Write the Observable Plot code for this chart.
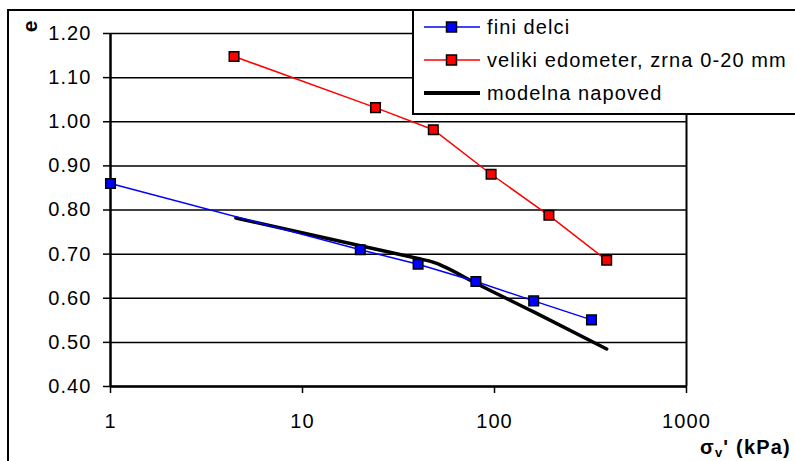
<!DOCTYPE html>
<html><head><meta charset="utf-8">
<script src="https://cdn.jsdelivr.net/npm/d3@7"></script>
<script src="https://cdn.jsdelivr.net/npm/@observablehq/plot@0.6"></script>
<style>
body{margin:0;background:#fff;font-family:"Liberation Sans",Arial,sans-serif;}
#wrap{position:relative;width:795px;height:461px;overflow:hidden;background:#fff}
#chart{position:absolute;left:0;top:0}
#chart svg text{letter-spacing:1.1px}
#frame{position:absolute;left:7px;top:9px;width:900px;height:600px;border:2px solid #000;pointer-events:none}
#legend{position:absolute;left:412px;top:9px;width:500px;height:102px;border:2px solid #000;background:#fff}
.row{position:absolute;left:0;height:24px;width:480px}
.row svg{position:absolute;left:10px;top:0}
.row span{position:absolute;left:73px;top:0;line-height:24px;font-size:20px;letter-spacing:1.1px;white-space:nowrap;color:#000}
#ylab{position:absolute;left:24px;top:16px;font-weight:bold;font-size:21px;transform:rotate(-90deg);transform-origin:center;line-height:21px}
#xlab{position:absolute;left:700px;top:436px;font-weight:bold;font-size:20px;letter-spacing:1.2px;white-space:nowrap}
#xlab sub{font-size:13px;vertical-align:-3px}
</style></head>
<body>
<div id="wrap">
<div id="chart"></div>
<div id="frame"></div>
<div id="ylab">e</div>
<div id="xlab">σ<sub>v</sub>' (kPa)</div>
<div id="legend"></div>
</div>
<script>
// Data
const fineX = [1, 20, 40, 80, 160, 320];
const fineY = [0.86, 0.71, 0.677, 0.638, 0.594, 0.551];
const bigX = [4.4, 24, 48, 96, 192, 384];
const bigY = [1.148, 1.032, 0.982, 0.881, 0.788, 0.686];
const modelX = [4.5, 20, 40, 46, 50, 55, 80, 160, 384];
const modelY = [0.782, 0.719, 0.690, 0.684, 0.679, 0.671, 0.634, 0.569, 0.485];
const yTicks = [0.4, 0.5, 0.6, 0.7, 0.8, 0.9, 1.0, 1.1, 1.2];
const xTicks = [1, 10, 100, 1000];
const seriesNames = ["fini delci", "veliki edometer, zrna 0-20 mm", "modelna napoved"];

const fine = fineX.map((x, i) => ({x, y: fineY[i]}));
const big = bigX.map((x, i) => ({x, y: bigY[i]}));
const model = modelX.map((x, i) => ({x, y: modelY[i]}));

const chart = Plot.plot({
  width: 795, height: 461,
  marginLeft: 110, marginRight: 109, marginTop: 33, marginBottom: 75,
  x: {type: "log", domain: [1, 1000]},
  y: {domain: [0.4, 1.2]},
  style: {fontFamily: "Liberation Sans, Arial, sans-serif", fontSize: "20px", color: "#000", background: "transparent", overflow: "visible"},
  marks: [
    Plot.ruleY(yTicks, {stroke: "#000", strokeWidth: 1.5}),
    Plot.ruleY([0.4], {stroke: "#000", strokeWidth: 2.5}),
    Plot.ruleX([1], {stroke: "#000", strokeWidth: 2.5}),
    Plot.ruleX([1000], {stroke: "#000", strokeWidth: 2}),
    Plot.axisY({ticks: yTicks, tickFormat: d3.format(".2f"), tickSize: 7, tickPadding: 12, strokeWidth: 1.5, label: null}),
    Plot.axisX({ticks: xTicks, tickFormat: d => String(d), tickSize: 7, tickPadding: 20, strokeWidth: 1.5, label: null}),
    Plot.line(model, {x: "x", y: "y", stroke: "#000", strokeWidth: 3.5, curve: "monotone-x"}),
    Plot.line(fine, {x: "x", y: "y", stroke: "#0000ff", strokeWidth: 1.5}),
    Plot.line(big, {x: "x", y: "y", stroke: "#ff0000", strokeWidth: 1.5}),
    Plot.dot(fine, {x: "x", y: "y", symbol: "square", r: 5.4, fill: "#0000ff", stroke: "#000", strokeWidth: 1.5}),
    Plot.dot(big, {x: "x", y: "y", symbol: "square", r: 5.4, fill: "#ff0000", stroke: "#000", strokeWidth: 1.5})
  ]
});
document.getElementById("chart").appendChild(chart);

// Legend
const legendColors = ["#0000ff", "#ff0000", "#000"];
const rowCenters = [15.7, 49, 82.3];
const legend = document.getElementById("legend");
seriesNames.forEach((name, i) => {
  const row = document.createElement("div");
  row.className = "row";
  row.style.top = (rowCenters[i] - 12) + "px";
  const marker = i < 2 ? `<rect x="22.5" y="7" width="10" height="10" fill="${legendColors[i]}" stroke="#000" stroke-width="1.5"/>` : "";
  const sw = i < 2 ? 1.5 : 4;
  row.innerHTML = `<svg width="56" height="24"><line x1="0" x2="56" y1="12" y2="12" stroke="${legendColors[i]}" stroke-width="${sw}"/>${marker}</svg><span>${name}</span>`;
  legend.appendChild(row);
});
</script>
</body></html>
